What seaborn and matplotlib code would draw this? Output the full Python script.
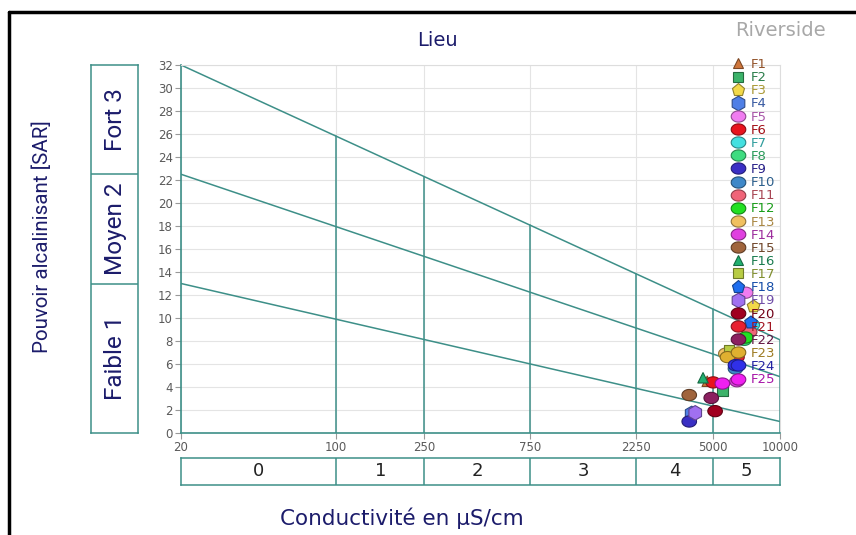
import numpy as np
import pandas as pd
import seaborn as sns
import matplotlib.pyplot as plt
from matplotlib.path import Path
from matplotlib.lines import Line2D

# stations and their measurements (EC in uS/cm, SAR)
sites = ['F1', 'F2', 'F3', 'F4', 'F5', 'F6', 'F7', 'F8', 'F9', 'F10', 'F11', 'F12', 'F13',
         'F14', 'F15', 'F16', 'F17', 'F18', 'F19', 'F20', 'F21', 'F22', 'F23', 'F24', 'F25']
ec = [4700, 5500, 7600, 4000, 7000, 5000, 7500, 6900, 3900, 6300, 7300, 7000, 5700,
      6400, 3900, 4500, 5900, 7400, 4150, 5100, 6400, 4900, 5800, 6300, 5500]
sar = [4.5, 3.7, 11.0, 1.7, 12.2, 4.4, 9.4, 8.1, 1.0, 5.6, 8.8, 8.3, 6.9,
       4.5, 3.3, 4.8, 7.2, 9.6, 1.75, 1.9, 6.6, 3.05, 6.6, 5.9, 4.3]
colors = ['#d0773c', '#3cb36a', '#f2d94a', '#4f7fe6', '#f07cf0', '#e8141e', '#44e0e0',
          '#3edc80', '#3a2fc4', '#3f88c8', '#f06478', '#22e022', '#f0c060', '#e040e0',
          '#a0643c', '#22b070', '#b8cc44', '#1e6ef0', '#a070f0', '#a00020', '#e82030',
          '#8c2060', '#e0b030', '#3030e8', '#f020f0']
shapes = ['^', 's', 'p', 'h', 'e', 'e', 'e', 'e', 'e', 'e', 'e', 'e', 'e',
          'e', 'e', '^', 's', 'p', 'h', 'e', 'e', 'e', 'e', 'e', 'e']

# Riverside diagram frame
ec_ticks = [20, 100, 250, 750, 2250, 5000, 10000]
ec_classes = ['0', '1', '2', '3', '4', '5']
sar_start = [13, 22.5, 32]      # SAR of class lines at EC = 20
sar_end = [1.0, 4.9, 8.1]       # SAR of class lines at EC = 10000
sar_classes = ['Faible 1', 'Moyen 2', 'Fort 3']

teal = '#3d8f88'
navy = '#1c1c6b'
W, H = 856, 535


def fx(px):
    return px / W


def fy(py):
    return 1 - py / H


t = np.linspace(0, 2 * np.pi, 48)
ellipse = Path(np.column_stack([1.3 * np.cos(t), np.sin(t)]), closed=True)
marker_map = {s: (ellipse if m == 'e' else m) for s, m in zip(sites, shapes)}
palette = dict(zip(sites, colors))
msize = {'^': 7.5, 's': 7.5, 'p': 9.5, 'h': 10.5, 'e': 10.5}


def darker(c, f=0.6):
    r, g, b = plt.matplotlib.colors.to_rgb(c)
    return (r * f, g * f, b * f)


sns.set_theme(style='white')
plt.rcParams['font.family'] = ['DejaVu Sans']
fig = plt.figure(figsize=(W / 100, H / 100), dpi=100)

ax = fig.add_axes([fx(181), fy(433), fx(780) - fx(181), fy(65) - fy(433)])
ax.set_xscale('log')
ax.set_xlim(20, 10000)
ax.set_ylim(0, 32)

# class lines
lx0, lx1 = np.log10(20), np.log10(10000)
for a, b in zip(sar_start, sar_end):
    ax.plot([20, 10000], [a, b], color=teal, lw=1.1, zorder=2)
for e in ec_ticks[1:]:
    top = sar_start[-1] + (sar_end[-1] - sar_start[-1]) * (np.log10(e) - lx0) / (lx1 - lx0)
    ax.plot([e, e], [0, top], color=teal, lw=1.1, zorder=2)

df = pd.DataFrame({'site': sites, 'ec': ec, 'sar': sar,
                   'msz': [msize[m] for m in shapes]})
sns.scatterplot(data=df, x='ec', y='sar', hue='site', style='site', palette=palette,
                markers=marker_map, size='msz',
                sizes={v: v ** 2 for v in set(msize.values())},
                edgecolor=[darker(c) for c in colors],
                linewidth=0.8, legend=False, ax=ax, zorder=3)

ax.set_xticks(ec_ticks)
ax.set_xticklabels([str(v) for v in ec_ticks])
ax.minorticks_off()
ax.set_yticks(range(0, 33, 2))
ax.tick_params(axis='both', which='major', direction='out', length=4, width=0.8,
               color='#999999', labelcolor='#5a5a5a', labelsize=8.5, pad=2,
               left=True, bottom=True)
ax.grid(True, color='#e4e4e4', lw=0.8, zorder=0)
ax.set_axisbelow(True)
ax.set_xlabel('')
ax.set_ylabel('')
for side in ['left', 'bottom']:
    ax.spines[side].set_color(teal)
    ax.spines[side].set_linewidth(1.2)
for side in ['top', 'right']:
    ax.spines[side].set_color('#dddddd')
    ax.spines[side].set_linewidth(0.8)

# legend
handles = [Line2D([], [], linestyle='', marker=marker_map[s], markersize=msize[m],
                  markerfacecolor=c, markeredgecolor=darker(c), markeredgewidth=0.8)
           for s, c, m in zip(sites, colors, shapes)]
ax.legend(handles, sites, loc='upper left', bbox_to_anchor=(fx(731), fy(58)),
          bbox_transform=fig.transFigure, frameon=False, fontsize=9.5,
          labelspacing=0.01, handlelength=1.1, handletextpad=0.4, borderpad=0,
          borderaxespad=0, labelcolor=[darker(c, 0.7) for c in colors])

# conductivity class boxes
axb = fig.add_axes([fx(181), fy(485), fx(780) - fx(181), fy(458) - fy(485)])
axb.set_xscale('log')
axb.set_xlim(20, 10000)
axb.set_ylim(0, 1)
for e in ec_ticks[1:-1]:
    axb.axvline(e, color=teal, lw=1.1)
for lo, hi, lab in zip(ec_ticks[:-1], ec_ticks[1:], ec_classes):
    axb.text(np.sqrt(lo * hi), 0.5, lab, ha='center', va='center', fontsize=13,
             color='#222222')
axb.set_xticks([])
axb.set_yticks([])
axb.minorticks_off()
for sp in axb.spines.values():
    sp.set_color(teal)
    sp.set_linewidth(1.1)

# SAR class boxes
axl = fig.add_axes([fx(91), fy(433), fx(138) - fx(91), fy(65) - fy(433)])
axl.set_xlim(0, 1)
axl.set_ylim(0, 32)
bounds = [0] + sar_start
for b in sar_start[:-1]:
    axl.axhline(b, color=teal, lw=1.1)
for lo, hi, lab in zip(bounds[:-1], bounds[1:], sar_classes):
    axl.text(0.52, (lo + hi) / 2, lab, ha='center', va='center', rotation=90,
             fontsize=17.5, color=navy, family=['Roboto', 'DejaVu Sans'])
axl.set_xticks([])
axl.set_yticks([])
for sp in axl.spines.values():
    sp.set_color(teal)
    sp.set_linewidth(1.1)

fig.text(fx(42), fy(237), 'Pouvoir alcalinisant [SAR]', rotation=90, ha='center',
         va='center', fontsize=14.8, color=navy, family=['Roboto', 'DejaVu Sans'])
fig.text(fx(402), fy(518), 'Conductivité en µS/cm', ha='center', va='center',
         fontsize=15.5, color=navy)
fig.text(fx(437), fy(40), 'Lieu', ha='center', va='center', fontsize=14, color=navy)
fig.text(fx(780), fy(31), 'Riverside', ha='center', va='center', fontsize=14,
         color='#a8a8a8')

# screenshot frame
fig.add_artist(Line2D([fx(9), 1], [fy(12), fy(12)], color='black', lw=2.5,
                      transform=fig.transFigure))
fig.add_artist(Line2D([fx(9), fx(9)], [fy(12), 0], color='black', lw=2.5,
                      transform=fig.transFigure))

fig.savefig('out.png', dpi=100)
